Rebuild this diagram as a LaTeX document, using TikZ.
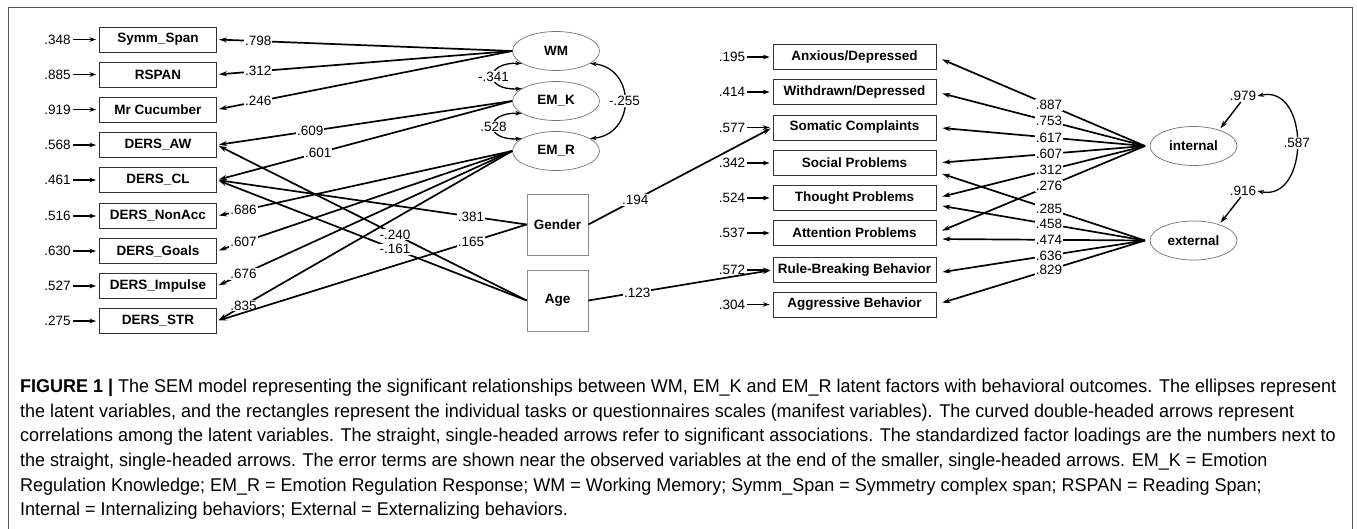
\documentclass[tikz,border=0pt]{standalone}
\usepackage{fontspec}
\setmainfont{Liberation Sans}
\usepackage{graphicx}
\usetikzlibrary{shapes.geometric,arrows.meta,calc}
\newfontfamily\capfont{Liberation Sans}
\newlength\capw
\newcommand\cf{\capfont\fontsize{18.5}{22}\selectfont}
\newcommand\dfont{\fontsize{13.5}{15}\selectfont}
\tikzset{
 obs/.style={draw=black!80, line width=0.9pt, minimum width=117pt, minimum height=25pt, inner sep=0pt, font=\dfont\bfseries},
 obsr/.style={obs, minimum width=163pt},
 cov/.style={draw=black!45, line width=0.7pt, minimum width=61pt, minimum height=61pt, inner sep=0pt, font=\dfont\bfseries},
 lat/.style={ellipse, draw=black!55, line width=0.7pt, minimum width=87pt, minimum height=39pt, inner sep=0pt, font=\dfont\bfseries},
 num/.style={font=\dfont, inner sep=1pt},
 lab/.style={num, fill=white},
 arr/.style={line width=1.7pt, -{Stealth[length=8pt,width=5pt]}, shorten >=2pt},
 rarr/.style={arr, shorten >=6pt},
 earr/.style={line width=1.3pt, -{Stealth[length=6.5pt,width=4.5pt]}, shorten >=3pt, shorten <=1pt},
 darr/.style={line width=1.3pt, {Stealth[length=6.5pt,width=4.5pt]}-{Stealth[length=6.5pt,width=4.5pt]}},
 capline/.style={anchor=base west, inner sep=0pt},
}
\begin{document}
\settowidth\capw{\cf\textbf{FIGURE 1 |} The SEM model representing the significant relationships between WM, EM\_K and EM\_R latent factors with behavioral outcomes. The ellipses represent}%
\pgfmathsetmacro\capsx{1316/\capw}%
\begin{tikzpicture}[x=1pt,y=1pt]
\useasboundingbox (0,0) rectangle (1357,-529);
\fill[white] (0,0) rectangle (1357,-529);
\draw[black!65, line width=0.9pt] (8,-529) -- (8,-7) -- (1352,-7) -- (1352,-529);

% left observed
\node[obs] (symm) at (158,-39.5) {Symm\_Span};
\node[obs] (rspan) at (158,-74.5) {RSPAN};
\node[obs] (mrc) at (158,-109.5) {Mr Cucumber};
\node[obs] (aw) at (158,-145) {DERS\_AW};
\node[obs] (cl) at (158,-180) {DERS\_CL};
\node[obs] (nonacc) at (158,-216) {DERS\_NonAcc};
\node[obs] (goals) at (158,-251) {DERS\_Goals};
\node[obs] (imp) at (158,-286) {DERS\_Impulse};
\node[obs] (str) at (158,-321) {DERS\_STR};

\foreach \n/\v/\y in {symm/.348/39.5, rspan/.885/74.5, mrc/.919/109.5, aw/.568/145, cl/.461/180, nonacc/.516/216, goals/.630/251, imp/.527/286, str/.275/321}{
  \node[num] (e\n) at (57.5,-\y) {\v};
  \draw[earr] (e\n.east) -- (\n.west);
}

% latent
\node[lat] (WM) at (556,-51) {WM};
\node[lat] (EMK) at (556,-101) {EM\_K};
\node[lat] (EMR) at (556,-151) {EM\_R};
\node[lat] (internal) at (1193.5,-146) {internal};
\node[lat] (external) at (1193.5,-240.5) {external};

% covariates
\node[cov] (gender) at (557.5,-224.5) {Gender};
\node[cov] (age) at (557.5,-300.5) {Age};

% right observed
\node[obsr] (anx) at (854.5,-57) {Anxious/Depressed};
\node[obsr] (wd) at (854.5,-92) {Withdrawn/Depressed};
\node[obsr] (som) at (854.5,-127.5) {Somatic Complaints};
\node[obsr] (soc) at (854.5,-163) {Social Problems};
\node[obsr] (tho) at (854.5,-198) {Thought Problems};
\node[obsr] (att) at (854.5,-233) {Attention Problems};
\node[obsr] (rule) at (854.5,-270) {Rule-Breaking Behavior};
\node[obsr] (agg) at (854.5,-304.5) {Aggressive Behavior};

\foreach \n/\v/\y in {anx/.195/57, wd/.414/92, som/.577/127.5, soc/.342/163, tho/.524/198, att/.537/233, rule/.572/270, agg/.304/304.5}{
  \node[num] (e\n) at (732,-\y) {\v};
  \draw[earr] (e\n.east) -- (\n.west);
}

% loadings left
\draw[arr] (WM.west) -- node[lab,pos=0.86]{.798} (symm.east);
\draw[arr] (WM.west) -- node[lab,pos=0.86]{.312} (rspan.east);
\draw[arr] (WM.west) -- node[lab,pos=0.86]{.246} (mrc.east);
\draw[arr] (EMK.west) -- node[lab,pos=0.684]{.609} (aw.east);
\draw[arr] (EMK.west) -- node[lab,pos=0.657]{.601} (cl.east);
\draw[arr] (EMR.west) -- node[lab,pos=0.91]{.686} (nonacc.east);
\draw[arr] (EMR.west) -- node[lab,pos=0.91]{.607} (goals.east);
\draw[arr] (EMR.west) -- node[lab,pos=0.91]{.676} (imp.east);
\draw[arr] (EMR.west) -- node[lab,pos=0.91]{.835} (str.east);

% covariate paths
\draw[arr] (gender.west) -- node[lab,pos=0.18]{.381} (cl.east);
\draw[arr] (gender.west) -- node[lab,pos=0.18]{.165} (str.east);
\draw[arr] (age.west) -- node[lab,pos=0.425]{-.240} (aw.east);
\draw[arr] (age.west) -- node[lab,pos=0.425]{-.161} (cl.east);
\draw[arr] (gender.east) -- node[lab,pos=0.254]{.194} (som.west);
\draw[arr] (age.east) -- node[lab,pos=0.265]{.123} (rule.west);

% correlations among latents
\draw[darr] (WM.200) .. controls (484,-62) and (484,-91) .. node[lab]{-.341} (EMK.160);
\draw[darr] (EMK.200) .. controls (484,-112) and (484,-141) .. node[lab]{.528} (EMR.160);
\draw[darr] (WM.340) .. controls (636,-68) and (636,-134) .. node[lab]{-.255} (EMR.20);

% internal / external loadings
\coordinate (ic) at (1145,-146);
\coordinate (xc) at (1145,-240.5);
\draw[rarr] (ic) -- node[lab,pos=0.46]{.887} (anx.east);
\draw[rarr] (ic) -- node[lab,pos=0.46]{.753} (wd.east);
\draw[rarr] (ic) -- node[lab,pos=0.46]{.617} (som.east);
\draw[rarr] (ic) -- node[lab,pos=0.46]{.607} (soc.east);
\draw[rarr] (ic) -- node[lab,pos=0.46]{.312} (tho.east);
\draw[rarr] (ic) -- node[lab,pos=0.46]{.276} (att.east);
\draw[rarr] (xc) -- node[lab,pos=0.46]{.285} ([yshift=-9pt]soc.east);
\draw[rarr] (xc) -- node[lab,pos=0.46]{.458} ([yshift=-7pt]tho.east);
\draw[rarr] (xc) -- node[lab,pos=0.46]{.474} ([yshift=-6pt]att.east);
\draw[rarr] (xc) -- node[lab,pos=0.46]{.636} ([yshift=-3pt]rule.east);
\draw[rarr] (xc) -- node[lab,pos=0.46]{.829} (agg.east);

% disturbances
\node[num] (d1) at (1243,-96) {.979};
\node[num] (d2) at (1243,-191) {.916};
\draw[arr,line width=1.4pt] (d1.250) -- (internal.32);
\draw[arr,line width=1.4pt] (d2.250) -- (external.32);
\draw[darr] (d1.east) .. controls (1310,-84) and (1310,-202) .. node[lab]{.587} (d2.east);

% caption
\node[capline] (c1) at (20,-392.5) {\scalebox{\capsx}[1]{\cf\textbf{FIGURE 1 |} The SEM model representing the significant relationships between WM, EM\_K and EM\_R latent factors with behavioral outcomes. The ellipses represent}};
\node[capline] (c2) at (20,-417.2) {\scalebox{\capsx}[1]{\cf the latent variables, and the rectangles represent the individual tasks or questionnaires scales (manifest variables). The curved double-headed arrows represent}};
\node[capline] (c3) at (20,-441.8) {\scalebox{\capsx}[1]{\cf correlations among the latent variables. The straight, single-headed arrows refer to significant associations. The standardized factor loadings are the numbers next to}};
\node[capline] (c4) at (20,-466.5) {\scalebox{\capsx}[1]{\cf the straight, single-headed arrows. The error terms are shown near the observed variables at the end of the smaller, single-headed arrows. EM\_K = Emotion}};
\node[capline] (c5) at (20,-491.2) {\scalebox{\capsx}[1]{\cf Regulation Knowledge; EM\_R = Emotion Regulation Response; WM = Working Memory; Symm\_Span = Symmetry complex span; RSPAN = Reading Span;}};
\node[capline] (c6) at (20,-515.8) {\scalebox{\capsx}[1]{\cf Internal = Internalizing behaviors; External = Externalizing behaviors.}};
\end{tikzpicture}
\end{document}
